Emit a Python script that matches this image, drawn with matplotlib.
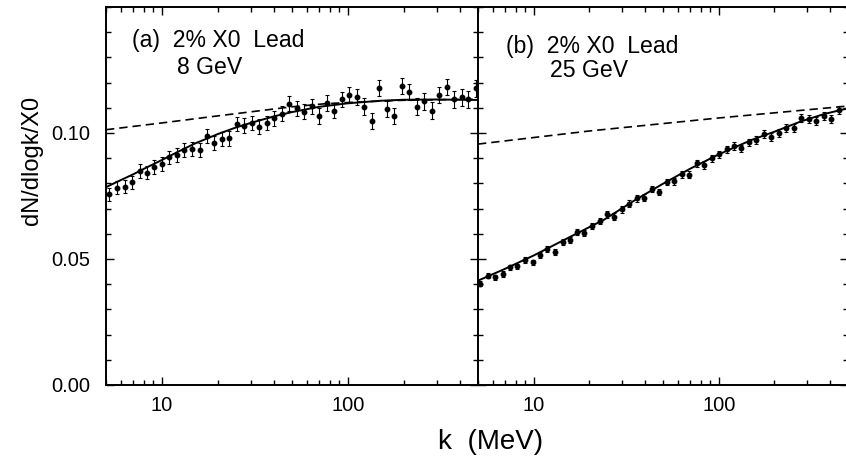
import matplotlib
matplotlib.use("Agg")
import matplotlib.pyplot as plt
from matplotlib.ticker import LogLocator, MultipleLocator, FuncFormatter, NullFormatter

plt.rcParams['font.family'] = ['Liberation Sans', 'DejaVu Sans']

# ---------------- panel (a): 8 GeV ----------------
k_a = [5.21, 5.75, 6.29, 6.90, 7.60, 8.27, 9.11, 10.0, 10.97, 12.0,
       13.16, 14.44, 15.91, 17.46, 19.04, 20.89, 22.93, 25.21, 27.60, 30.36,
       33.22, 36.55, 40.02, 44.01, 48.18, 52.99, 58.0, 63.8, 69.8, 76.8,
       84.1, 92.5, 101.2, 111.4, 121.9, 134.1, 146.8, 161.4, 176.7, 194.4,
       212.8, 234.1, 256.2, 281.8, 308.5, 339.3, 371.5, 408.6, 443.6, 487.7]
y_a = [0.0757, 0.0782, 0.0786, 0.0805, 0.0850, 0.0843, 0.0866, 0.0876, 0.0903, 0.0913,
       0.0933, 0.0938, 0.0931, 0.0988, 0.0962, 0.0975, 0.0979, 0.1036, 0.1029, 0.1040,
       0.1025, 0.1040, 0.1059, 0.1076, 0.1116, 0.1098, 0.1085, 0.1106, 0.1067, 0.1120,
       0.1089, 0.1133, 0.1151, 0.1142, 0.1105, 0.1049, 0.1178, 0.1096, 0.1067, 0.1185,
       0.1162, 0.1105, 0.1126, 0.1089, 0.1151, 0.1182, 0.1133, 0.1142, 0.1133, 0.1178]
err_a = [0.0026, 0.0026, 0.0026, 0.0026, 0.0027, 0.0027, 0.0027, 0.0027, 0.0027, 0.0027,
         0.0028, 0.0028, 0.0028, 0.0028, 0.0028, 0.0028, 0.0029, 0.0029, 0.0029, 0.0029,
         0.0029, 0.0029, 0.0030, 0.0030, 0.0030, 0.0030, 0.0030, 0.0030, 0.0031, 0.0031,
         0.0031, 0.0031, 0.0031, 0.0031, 0.0032, 0.0032, 0.0032, 0.0032, 0.0032, 0.0032,
         0.0033, 0.0033, 0.0033, 0.0033, 0.0033, 0.0033, 0.0034, 0.0034, 0.0034, 0.0034]
fit_k_a = [5, 6, 7, 8, 10, 12, 15, 20, 25, 30, 40, 50, 70, 100, 150, 200, 300, 500]
fit_y_a = [0.0785, 0.0813, 0.0836, 0.0858, 0.0893, 0.0923, 0.0958, 0.0996, 0.1022,
           0.1040, 0.1066, 0.1083, 0.1104, 0.1118, 0.1128, 0.1132, 0.1133, 0.1131]
bh_k_a = [5, 10, 20, 30, 50, 75, 120, 200, 500]
bh_y_a = [0.1013, 0.1040, 0.1068, 0.1084, 0.1104, 0.1116, 0.1124, 0.1130, 0.1134]

# ---------------- panel (b): 25 GeV ----------------
k_b = [5.11, 5.64, 6.20, 6.80, 7.42, 8.12, 8.94, 9.88, 10.78, 11.80,
       12.99, 14.35, 15.65, 17.14, 18.77, 20.66, 22.74, 24.90, 27.27, 30.01,
       32.86, 36.17, 39.61, 43.6, 47.75, 52.35, 57.54, 63.34, 69.35, 76.3,
       83.6, 91.99, 100.7, 110.9, 120.5, 132.5, 145.3, 159.1, 175.1, 191.7,
       211.0, 231.1, 254.3, 278.5, 306.5, 335.7, 369.5, 404.6, 445.4]
y_b = [0.0402, 0.0434, 0.0427, 0.0441, 0.0467, 0.0471, 0.0495, 0.0487, 0.0514, 0.0538,
       0.0527, 0.0567, 0.0574, 0.0607, 0.0602, 0.0631, 0.0651, 0.0677, 0.0668, 0.0697,
       0.0720, 0.0741, 0.0744, 0.0777, 0.0765, 0.0806, 0.0809, 0.0837, 0.0834, 0.0879,
       0.0873, 0.0900, 0.0916, 0.0936, 0.0949, 0.0939, 0.0963, 0.0972, 0.0996, 0.0985,
       0.0999, 0.1019, 0.1019, 0.1060, 0.1056, 0.1049, 0.1067, 0.1056, 0.1093]
err_b = [0.0011, 0.0011, 0.0011, 0.0011, 0.0011, 0.0011, 0.0011, 0.0011, 0.0012, 0.0012,
         0.0012, 0.0012, 0.0012, 0.0012, 0.0012, 0.0012, 0.0012, 0.0013, 0.0013, 0.0013,
         0.0013, 0.0013, 0.0013, 0.0013, 0.0013, 0.0013, 0.0014, 0.0014, 0.0014, 0.0014,
         0.0014, 0.0014, 0.0014, 0.0014, 0.0015, 0.0015, 0.0015, 0.0015, 0.0015, 0.0015,
         0.0015, 0.0015, 0.0016, 0.0016, 0.0016, 0.0016, 0.0016, 0.0016, 0.0016]
fit_k_b = [5, 7, 10, 15, 24, 35, 49, 70, 100, 150, 200, 276, 370, 500]
fit_y_b = [0.0414, 0.0461, 0.0514, 0.0580, 0.0656, 0.0732, 0.0795, 0.0858, 0.0915,
           0.0972, 0.1005, 0.1045, 0.1075, 0.1098]
bh_k_b = [5, 20, 98, 500]
bh_y_b = [0.0956, 0.1008, 0.1059, 0.1107]

x_ticks = [10, 100]
x_tick_labels = ["10", "100"]
y_ticks = [0.00, 0.05, 0.10]

W, H = 846, 463
fig = plt.figure(figsize=(W / 100, H / 100), dpi=100)
ax1 = fig.add_axes([106 / W, 78 / H, 372 / W, 378 / H])
ax2 = fig.add_axes([478 / W, 78 / H, 370 / W, 378 / H])

panels = [
    (ax1, k_a, y_a, err_a, fit_k_a, fit_y_a, bh_k_a, bh_y_a),
    (ax2, k_b, y_b, err_b, fit_k_b, fit_y_b, bh_k_b, bh_y_b),
]
for ax, k, y, e, fk, fy, bk, by in panels:
    ax.set_xscale('log')
    ax.plot(bk, by, color='black', lw=1.2, linestyle=(0, (5, 3)))
    ax.plot(fk, fy, color='black', lw=1.4)
    ax.errorbar(k, y, yerr=e, fmt='o', color='black', ms=3.2, elinewidth=0.8,
                capsize=1.5, capthick=0.8)
    ax.set_xlim(5, 500)
    ax.set_ylim(0, 0.15)
    ax.set_xticks(x_ticks)
    ax.xaxis.set_minor_locator(LogLocator(base=10, subs=[2, 3, 4, 5, 6, 7, 8, 9]))
    ax.xaxis.set_minor_formatter(NullFormatter())
    ax.set_xticklabels(x_tick_labels)
    ax.set_yticks(y_ticks)
    ax.yaxis.set_minor_locator(MultipleLocator(0.01))
    ax.yaxis.set_major_formatter(FuncFormatter(lambda v, p: f"{v:.2f}"))
    ax.tick_params(which='both', direction='in', top=True, right=True,
                   labelsize=14.5, width=1.0)
    ax.tick_params(which='major', length=6)
    ax.tick_params(which='minor', length=3.5)
    ax.tick_params(axis='x', pad=8)
    ax.tick_params(axis='y', pad=11)
    for s in ax.spines.values():
        s.set_linewidth(1.4)

ax2.tick_params(axis='y', labelleft=False)

fig.text(132 / W, 1 - 47 / H, "(a)  2% X0  Lead", fontsize=16.6, va='baseline')
fig.text(177 / W, 1 - 74 / H, "8 GeV", fontsize=16.6, va='baseline')
fig.text(506 / W, 1 - 53 / H, "(b)  2% X0  Lead", fontsize=16.6, va='baseline')
fig.text(550 / W, 1 - 77 / H, "25 GeV", fontsize=16.6, va='baseline')

fig.text(31.5 / W, 1 - 160 / H, "dN/dlogk/X0", fontsize=17, rotation=90,
         ha='center', va='center')
fig.text(491 / W, 1 - 442 / H, "k  (MeV)", fontsize=20, ha='center', va='center')

fig.savefig("out.png", dpi=100)
